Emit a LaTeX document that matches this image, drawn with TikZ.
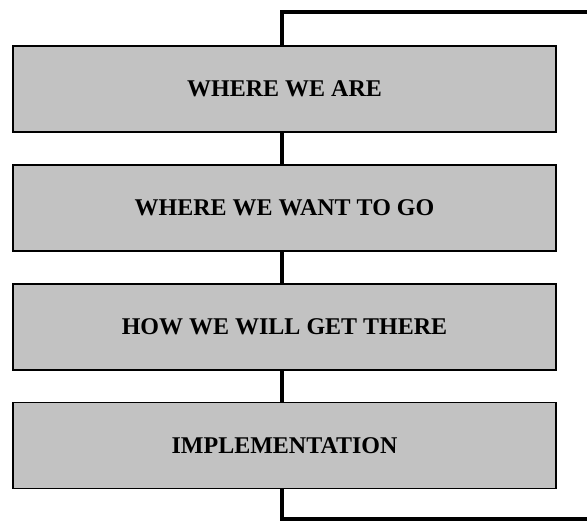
\documentclass[tikz,border=0pt]{standalone}
\usepackage{fontspec}
\setmainfont{Liberation Serif}
\usetikzlibrary{positioning}

\begin{document}
\begin{tikzpicture}[
    x=1pt, y=-1pt,
    node distance=31pt,
    stagebox/.style={rectangle, draw=black, line width=1.8pt, fill=black!24, minimum width=543pt, minimum height=86pt, inner sep=0pt, align=center, font=\fontsize{24}{28}\selectfont\bfseries},
    spine/.style={line width=4.5pt, black}
]
\useasboundingbox (0,0) rectangle (587,524);

% Stages
\node[stagebox] (where) at (284.5,89) {WHERE WE ARE};
\node[stagebox, below=of where] (want) {WHERE WE WANT TO GO};
\node[stagebox, below=of want] (how) {HOW WE WILL GET THERE};
\node[stagebox, below=of how] (impl) {IMPLEMENTATION};

% Loop ends
\coordinate (top) at (282,12);
\coordinate (topend) at (590,12);
\coordinate (bottom) at (282,519);
\coordinate (botend) at (590,519);

% Connectors
\draw[spine] (topend) -- (top) -- (where.north -| top);
\draw[spine] (where.south -| top) -- (want.north -| top);
\draw[spine] (want.south -| top) -- (how.north -| top);
\draw[spine] (how.south -| top) -- (impl.north -| top);
\draw[spine] (impl.south -| top) -- (bottom) -- (botend);

\end{tikzpicture}
\end{document}
